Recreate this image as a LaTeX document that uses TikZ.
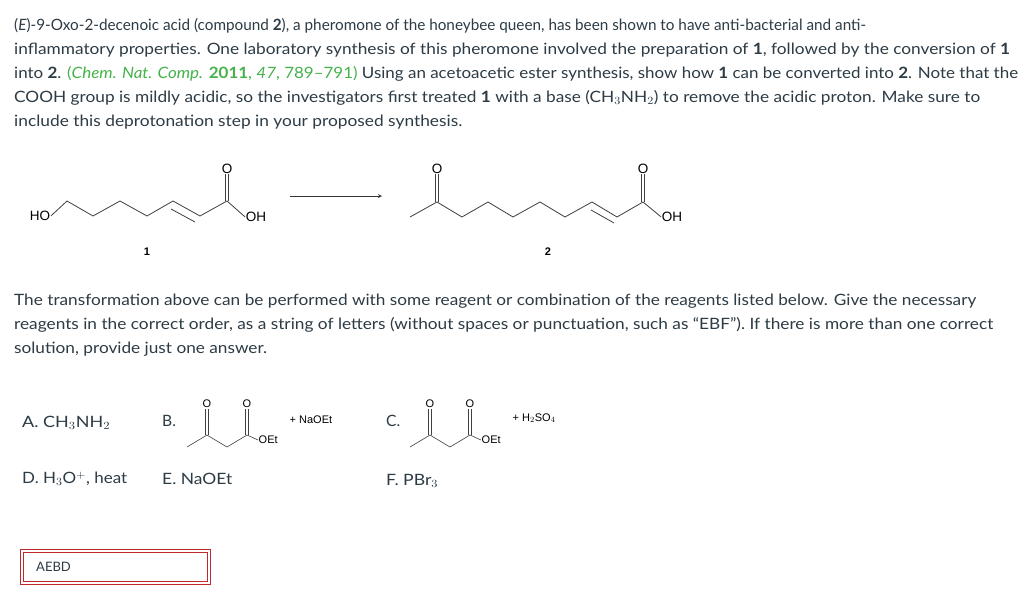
\documentclass[tikz,border=0pt]{standalone}
\usepackage{fontspec}
\usepackage{graphicx}
\setmainfont{Lato}
\newfontfamily\chemfont{Liberation Sans}
\definecolor{txt}{HTML}{2D3B45}
\definecolor{cite}{HTML}{45B24A}
\definecolor{boxred}{HTML}{C0282D}
\newcommand{\fitline}[2]{\resizebox{#1pt}{\height}{#2}}
\tikzset{
	para/.style = {anchor = west, inner sep = 0, text = txt, font = \fontsize{15.6}{18}\selectfont},
	bond/.style = {draw = black!75, line width = 0.8pt},
	atom/.style = {inner sep = 0.5pt, font = \chemfont\fontsize{13.5}{15}\selectfont},
	small/.style = {inner sep = 0.5pt, font = \chemfont\fontsize{11}{12}\selectfont},
	cpd/.style = {font = \chemfont\bfseries\fontsize{11}{12}\selectfont}
}
\begin{document}
\begin{tikzpicture}[x = 1pt, y = -1pt]
	\useasboundingbox[fill = white] (0, 0) rectangle (1024, 597);
	% question text
	\node[para] (l1) at (14, 26) {\fitline{852}{(\textit{E})-9-Oxo-2-decenoic acid (compound \textbf{2}), a pheromone of the honeybee queen, has been shown to have anti-bacterial and anti-}};
	\node[para] (l2) at (14, 50) {\fitline{996}{inflammatory properties. One laboratory synthesis of this pheromone involved the preparation of \textbf{1}, followed by the conversion of \textbf{1}}};
	\node[para] (l3) at (14, 74) {\fitline{1004}{into \textbf{2}. {\color{cite}(\textit{Chem. Nat. Comp.} \textbf{2011}, \textit{47}, 789--791)} Using an acetoacetic ester synthesis, show how \textbf{1} can be converted into \textbf{2}. Note that the}};
	\node[para] (l4) at (14, 98) {\fitline{966}{COOH group is mildly acidic, so the investigators first treated \textbf{1} with a base (CH$_3$NH$_2$) to remove the acidic proton. Make sure to}};
	\node[para] (l5) at (14, 122) {\fitline{448}{include this deprotonation step in your proposed synthesis.}};

	% compound 1
	\node[atom] (ho) at (40, 216) {HO};
	\foreach \n/\x/\y in {a/67/201, b/93/216, c/120/201, d/147/216, e/173/201, f/200/216, g/227/201}
	\coordinate (\n) at (\x, \y);
	\node[atom] (o1) at (227, 169) {O};
	\node[atom] (oh1) at (256, 217) {OH};
	\draw[bond] (ho.east) -- (a) -- (b) -- (c) -- (d) -- (e) -- (f) -- (g) -- (oh1.west);
	\draw[bond] (171, 209) -- (195, 222);
	\draw[bond] ([xshift = -1.8pt]g) -- ([xshift = -1.8pt]o1.south);
	\draw[bond] ([xshift = 1.8pt]g) -- ([xshift = 1.8pt]o1.south);
	\node[cpd] (n1) at (147, 252) {1};

	\draw[black!80, line width = 0.8pt, -stealth] (290, 196) -- (382, 196);

	% compound 2
	\foreach \n/\x/\y in {p/410/217, q/437/202, r/462/217, s/488/202, t/513/217, u/540/202, v/565/217, w/592/202, z/617/217, k/643/202}
	\coordinate (\n) at (\x, \y);
	\node[atom] (o2) at (437, 169) {O};
	\node[atom] (o3) at (643, 169) {O};
	\node[atom] (oh2) at (672, 217) {OH};
	\draw[bond] (p) -- (q) -- (r) -- (s) -- (t) -- (u) -- (v) -- (w) -- (z) -- (k) -- (oh2.west);
	\draw[bond] (591, 210) -- (614, 223);
	\foreach \c/\o in {q/o2, k/o3} {
		\draw[bond] ([xshift = -1.8pt]\c) -- ([xshift = -1.8pt]\o.south);
		\draw[bond] ([xshift = 1.8pt]\c) -- ([xshift = 1.8pt]\o.south);
	}
	\node[cpd] (n2) at (548, 252) {2};

	\node[para] (l6) at (14, 301) {\fitline{962}{The transformation above can be performed with some reagent or combination of the reagents listed below. Give the necessary}};
	\node[para] (l7) at (14, 325) {\fitline{979}{reagents in the correct order, as a string of letters (without spaces or punctuation, such as ``EBF''). If there is more than one correct}};
	\node[para] (l8) at (14, 349) {\fitline{253}{solution, provide just one answer.}};

	% reagents
	\node[para] (ra) at (22, 423) {\fitline{88}{A. CH$_3$NH$_2$}};
	\node[para] (rb) at (162, 421) {B.};
	\node[para] (rc) at (386, 421) {C.};
	\foreach \s/\dx in {b/0, c/223} {
		\coordinate (\s1) at (187 + \dx, 447);
		\coordinate (\s2) at (207 + \dx, 435);
		\coordinate (\s3) at (227 + \dx, 447);
		\coordinate (\s4) at (247 + \dx, 435);
		\node[small] (\s o1) at (207 + \dx, 404) {O};
		\node[small] (\s o2) at (247 + \dx, 404) {O};
		\node[small, anchor = west] (\s et) at (258 + \dx, 440) {OEt};
		\draw[bond, line width = 0.6pt] (\s1) -- (\s2) -- (\s3) -- (\s4) -- (\s et.west);
		\foreach \c/\o in {\s2/\s o1, \s4/\s o2} {
			\draw[bond, line width = 0.6pt] ([xshift = -1.5pt]\c) -- ([xshift = -1.5pt]\o.south);
			\draw[bond, line width = 0.6pt] ([xshift = 1.5pt]\c) -- ([xshift = 1.5pt]\o.south);
		}
	}
	\node[small, anchor = west] (naoet) at (289, 420) {+ NaOEt};
	\node[small, anchor = west] (h2so4) at (512, 418) {+ H$_2$SO$_4$};
	\node[para] (rd) at (22, 479) {\fitline{105}{D. H$_3$O$^+$, heat}};
	\node[para] (re) at (162, 479) {\fitline{70}{E. NaOEt}};
	\node[para] (rf) at (386, 481) {\fitline{52}{F. PBr$_3$}};

	% answer box
	\draw[boxred, line width = 0.7pt] (20, 549) rectangle (210, 584);
	\draw[boxred, line width = 0.7pt] (23, 552) rectangle (207, 581);
	\node[para, font = \fontsize{13}{15}\selectfont] (ans) at (36, 567) {AEBD};
\end{tikzpicture}
\end{document}
